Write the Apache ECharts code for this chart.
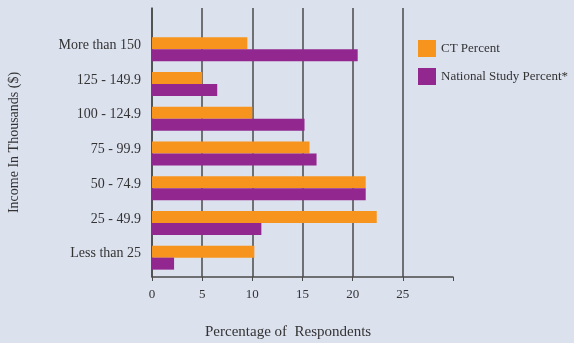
<!DOCTYPE html>
<html>
<head>
<meta charset="utf-8">
<script src="https://cdn.jsdelivr.net/npm/echarts@6/dist/echarts.min.js"></script>
<style>
  html, body { margin: 0; padding: 0; background: #dce1ee; }
  #chart { width: 574px; height: 343px; }
</style>
</head>
<body>
<div id="chart"></div>
<script>
// Income brackets, bottom to top
const categories = ['Less than 25', '25 - 49.9', '50 - 74.9', '75 - 99.9', '100 - 124.9', '125 - 149.9', 'More than 150'];
// Share of respondents per bracket (%)
const ctPercent = [10.2, 22.4, 21.3, 15.7, 10.0, 5.0, 9.5];
const nationalPercent = [2.2, 10.9, 21.3, 16.4, 15.2, 6.5, 20.5];
const seriesNames = ['CT Percent', 'National Study Percent*'];
const xMin = 0, xMax = 30, xStep = 5;

const serif = '"Liberation Serif", "DejaVu Serif", serif';
const ink = '#333';
const rule = '#4a4a4a';

// Split lines at 0..25, none at the far right end
const tickCount = (xMax - xMin) / xStep + 1;
const splitColors = [];
for (let i = 0; i < tickCount; i++) splitColors.push(i === tickCount - 1 ? 'rgba(0,0,0,0)' : rule);

const chart = echarts.init(document.getElementById('chart'));
chart.setOption({
  backgroundColor: '#dce1ee',
  animation: false,
  title: {
    text: 'Percentage of  Respondents',
    left: 200, top: 320,
    textStyle: { fontFamily: serif, fontSize: 15, fontWeight: 'normal', color: ink }
  },
  legend: {
    orient: 'vertical',
    left: 413, top: 35,
    itemWidth: 18, itemHeight: 17, itemGap: 11,
    icon: 'rect',
    textStyle: { fontFamily: serif, fontSize: 13, color: ink },
    data: seriesNames
  },
  grid: [
    { left: 152, right: 121, top: 8, bottom: 66, outerBoundsMode: 'none', containLabel: false },
    { left: 152, right: 121, top: 32, bottom: 68, outerBoundsMode: 'none', containLabel: false }
  ],
  xAxis: [
    {
      gridIndex: 0, type: 'value', min: xMin, max: xMax, interval: xStep,
      axisLine: { show: true, lineStyle: { color: rule, width: 1.5 } },
      axisTick: { show: true, length: 4, lineStyle: { color: rule } },
      axisLabel: {
        fontFamily: serif, fontSize: 13, color: ink, margin: 11,
        formatter: v => (v === xMax ? '' : String(v))
      },
      splitLine: { show: true, lineStyle: { color: splitColors, width: 1.5 } }
    },
    { gridIndex: 1, type: 'value', min: xMin, max: xMax, show: false }
  ],
  yAxis: [
    {
      gridIndex: 0, type: 'value', min: 0, max: 1,
      axisLine: { show: true, lineStyle: { color: rule, width: 1.5 } },
      axisTick: { show: false }, axisLabel: { show: false }, splitLine: { show: false },
      name: 'Income In Thousands ($)', nameLocation: 'middle', nameGap: 131,
      nameTextStyle: { fontFamily: serif, fontSize: 14, color: ink }
    },
    {
      gridIndex: 1, type: 'category', data: categories,
      axisLine: { show: false }, axisTick: { show: false },
      axisLabel: { fontFamily: serif, fontSize: 14, color: ink, margin: 11, verticalAlign: 'bottom', lineHeight: 8 }
    }
  ],
  series: [
    {
      name: seriesNames[0], type: 'bar', xAxisIndex: 1, yAxisIndex: 1,
      data: ctPercent, barWidth: 12, barGap: '0%',
      itemStyle: { color: '#f7941d' }
    },
    {
      name: seriesNames[1], type: 'bar', xAxisIndex: 1, yAxisIndex: 1,
      data: nationalPercent, barWidth: 12, barGap: '0%',
      itemStyle: { color: '#92278f' }
    }
  ]
});
</script>
</body>
</html>
